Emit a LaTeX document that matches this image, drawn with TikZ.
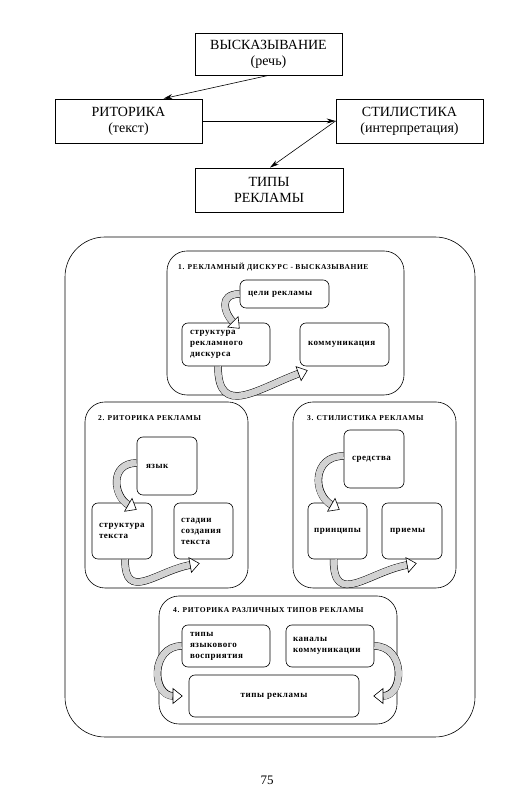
\documentclass[tikz,border=0pt]{standalone}
\usepackage{fontspec}
\setmainfont{Liberation Serif}
\usetikzlibrary{arrows.meta}
\usetikzlibrary{positioning}
\usetikzlibrary{calc}

\begin{document}
\begin{tikzpicture}[x=1pt,y=1pt]
		\useasboundingbox (0,0) rectangle (515,792);
		\tikzstyle{TopBox}=[draw,line width=0.8pt,align=center,inner sep=0pt,minimum width=147pt,minimum height=44pt,font=\fontsize{14}{16}\selectfont]
		\node[TopBox,minimum height=42pt] (vysk) at (268.5,738) {ВЫСКАЗЫВАНИЕ\\(речь)};
		\node[TopBox] (rit) at (128.5,671) {РИТОРИКА\\(текст)};
		\node[TopBox] (stil) at (409.5,671) {СТИЛИСТИКА\\(интерпретация)};
		\node[TopBox,minimum width=148pt] (tipy) at (269,602) {ТИПЫ\\РЕКЛАМЫ};
		\tikzstyle{EdgeStyle}=[-{Stealth[length=9pt,width=5pt]},line width=0.6pt]
		\draw[EdgeStyle] (vysk.south) -- ([xshift=35pt]rit.north);
		\draw[EdgeStyle] (rit.east) -- (stil.west);
		\draw[EdgeStyle] (stil.west) -- ([xshift=1pt]tipy.north);
		\tikzstyle{Frame}=[draw,line width=0.6pt,rounded corners=20pt,inner sep=0pt]
		\tikzstyle{Title}=[anchor=west,inner sep=0pt,font=\bfseries\fontsize{7.5}{9}\selectfont\addfontfeatures{LetterSpace=8}]
		\tikzstyle{Item}=[draw,line width=0.6pt,rounded corners=6pt,inner sep=0pt,align=left,font=\bfseries\fontsize{9}{11}\selectfont\addfontfeatures{LetterSpace=6}]
		\node[Frame,rounded corners=40pt,minimum width=410pt,minimum height=500pt] (frame) at (270,305) {};
		\node[Frame,minimum width=237pt,minimum height=144pt] (disc) at (285.5,469) {};
		\node[Title] (t1) at (178,525) {1. РЕКЛАМНЫЙ ДИСКУРС - ВЫСКАЗЫВАНИЕ};
		\node[Item,minimum width=89pt,minimum height=28pt,text width=73pt] (goal) at (284.5,498) {цели рекламы};
		\node[Item,minimum width=88pt,minimum height=43pt,text width=72pt] (struct) at (226,447.5) {структура\\рекламного\\дискурса};
		\node[Item,minimum width=89pt,minimum height=43pt,text width=73pt] (comm) at (344.5,447.5) {коммуникация};
		\node[Frame,minimum width=163pt,minimum height=186pt] (rhet) at (166.5,297) {};
		\node[Title] (t2) at (98,374) {2. РИТОРИКА РЕКЛАМЫ};
		\node[Item,minimum width=60pt,minimum height=58pt,text width=42pt] (lang) at (167,326) {язык};
		\node[Item,minimum width=60pt,minimum height=56pt,text width=46pt] (textstr) at (122,261) {структура\\текста};
		\node[Item,minimum width=59pt,minimum height=56pt,text width=45pt] (stage) at (203.5,261) {стадии\\создания\\текста};
		\node[Frame,minimum width=163pt,minimum height=186pt] (style) at (374.5,297) {};
		\node[Title] (t3) at (307,374) {3. СТИЛИСТИКА РЕКЛАМЫ};
		\node[Item,minimum width=60pt,minimum height=58pt,text width=44pt] (means) at (374,333) {средства};
		\node[Item,minimum width=59pt,minimum height=56pt,text width=57pt,align=center] (princ) at (337.5,261) {принципы};
		\node[Item,minimum width=60pt,minimum height=56pt,text width=44pt] (tech) at (412,261) {приемы};
		\node[Frame,minimum width=238pt,minimum height=128pt] (kinds) at (278,132) {};
		\node[Title] (t4) at (173,182) {4. РИТОРИКА РАЗЛИЧНЫХ ТИПОВ РЕКЛАМЫ};
		\node[Item,minimum width=88pt,minimum height=42pt,text width=72pt] (perc) at (226,146) {типы\\языкового\\восприятия};
		\node[Item,minimum width=88pt,minimum height=42pt,text width=74pt] (chan) at (330,146) {каналы\\коммуникации};
		\node[Item,minimum width=170pt,minimum height=42pt,text width=150pt,align=center] (adtype) at (274,96) {типы рекламы};
		\tikzstyle{Ribbon}=[line width=6.5pt,draw=gray!35,preaction={draw=black,line width=7.5pt,arrows=-,shorten >=9pt},-{Triangle[length=10pt,width=16pt,fill=white,color=black,line width=0.6pt]}]
		\draw[Ribbon] (goal.west) to[out=180,in=135,looseness=1.6] ([xshift=58pt,yshift=-6pt]struct.north west);
		\draw[Ribbon] ([xshift=-8pt]struct.south) to[out=270,in=200,looseness=1.5] ([xshift=8pt,yshift=-4pt]comm.south west);
		\draw[Ribbon] ([yshift=3pt]lang.west) to[out=180,in=150,looseness=1.5] ([xshift=45pt,yshift=-7pt]textstr.north west);
		\draw[Ribbon] ([xshift=3pt]textstr.south) to[out=270,in=190,looseness=1.5] ([xshift=26pt,yshift=-4pt]stage.south west);
		\draw[Ribbon] ([yshift=3pt]means.west) to[out=180,in=150,looseness=1.5] ([xshift=32pt,yshift=-7pt]princ.north west);
		\draw[Ribbon] ([xshift=-4pt]princ.south) to[out=270,in=190,looseness=1.5] ([xshift=35pt,yshift=-4pt]tech.south west);
		\draw[Ribbon] (perc.west) to[out=180,in=180,looseness=1.6] ([xshift=-6pt]adtype.west);
		\draw[Ribbon] (chan.east) to[out=0,in=0,looseness=1.6] ([xshift=14pt]adtype.east);
		\node[font=\fontsize{13}{16}\selectfont] (page) at (267,12) {75};
\end{tikzpicture}
\end{document}
